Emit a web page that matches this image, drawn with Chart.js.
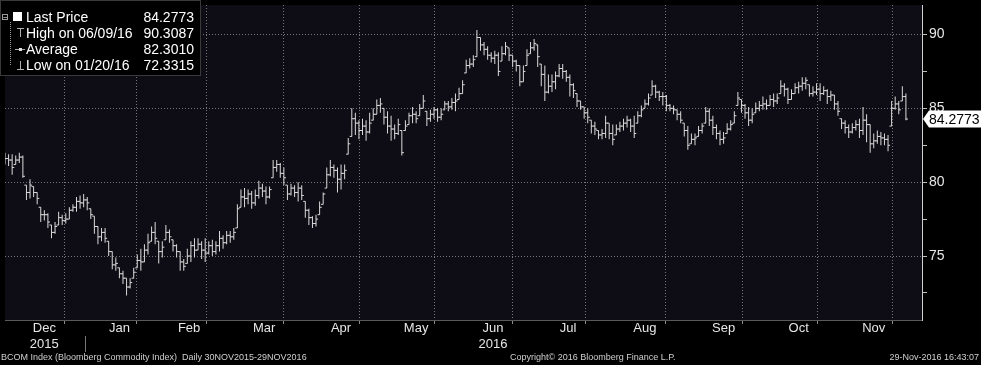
<!DOCTYPE html>
<html><head><meta charset="utf-8">
<script src="https://cdn.jsdelivr.net/npm/chart.js@4.4.0/dist/chart.umd.min.js"></script>
<style>html,body{margin:0;padding:0;background:#000;overflow:hidden}#wrap{position:relative;width:981px;height:365px}</style>
</head><body><div id="wrap"><canvas id="c" width="981" height="365"></canvas></div>
<script>
// ---- data (BCOM daily bars, 30 Nov 2015 - 29 Nov 2016) ----
const monthLabels = ['Dec','Jan','Feb','Mar','Apr','May','Jun','Jul','Aug','Sep','Oct','Nov'];
const yearLabels  = ['2015','','','','','','2016','','','','',''];
const monthTradingDays = [23,19,20,22,21,21,22,20,23,21,21,21];
const yTickValues = [72.5,75,77.5,80,82.5,85,87.5,90];
const legendNames  = ['Last Price','High on 06/09/16','Average','Low on 01/20/16'];
const legendValues = ['84.2773','90.3087','82.3010','72.3315'];
const footerLeft   = 'BCOM Index (Bloomberg Commodity Index)  Daily 30NOV2015-29NOV2016';
const footerCenter = 'Copyright\u00A9 2016 Bloomberg Finance L.P.';
const footerRight  = '29-Nov-2016 16:43:07';

const openPx = [81.8,81.6,81.5,81.2,81.5,81.7,79.8,79.3,79.7,79.3,78.3,77.8,77.8,77.1,76.6,77.1,77.6,77.4,77.5,78.1,78.3,78.7,78.6,
78.8,78.2,77.7,77.0,76.3,76.6,76.0,75.3,74.4,74.2,73.8,73.5,72.9,73.5,74.2,74.7,74.6,75.4,76.0,
76.6,76.0,75.3,76.1,76.6,76.1,75.7,75.3,74.6,74.5,75.0,75.7,75.4,75.8,75.4,75.2,75.7,75.3,75.7,76.2,
75.9,76.4,76.3,76.9,78.3,79.0,78.9,79.2,78.6,79.1,79.6,79.4,79.0,80.3,81.0,81.2,80.6,79.8,79.2,79.6,79.3,79.6,
78.7,78.1,77.6,77.2,77.8,78.5,79.6,80.5,81.0,80.8,80.2,80.6,81.9,83.1,84.3,84.0,83.5,83.8,83.4,84.2,84.6,
85.2,85.0,84.4,83.8,83.6,83.3,83.5,83.5,83.9,84.5,84.6,84.5,85.0,84.8,84.3,84.6,84.9,84.4,84.9,85.3,85.1,
85.4,85.6,86.0,87.4,87.9,88.0,88.5,89.8,89.3,89.0,88.6,88.4,88.6,88.2,88.7,89.1,88.6,88.2,87.9,86.8,87.9,88.7,
89.1,89.3,88.0,87.3,86.1,86.5,86.8,87.2,87.7,87.5,87.1,86.6,86.0,85.5,85.1,84.7,84.2,83.8,83.5,83.2,
83.3,84.0,83.3,83.2,83.6,83.8,84.0,84.2,83.8,84.0,84.5,85.0,85.3,85.9,86.5,86.1,85.8,85.8,85.2,85.0,84.9,84.6,84.0,
83.5,82.6,82.9,83.1,83.5,84.0,84.8,84.2,83.7,83.3,82.9,83.3,83.6,84.0,85.2,85.6,85.2,84.7,84.2,84.7,85.0,
85.2,85.3,85.2,85.6,85.5,86.0,86.5,86.3,85.6,86.0,86.4,86.5,86.7,86.6,86.0,86.1,86.3,86.0,86.2,85.8,85.9,
85.3,84.3,84.0,83.7,83.4,83.7,83.9,83.5,84.2,83.9,82.6,82.8,83.1,83.0,82.9,83.8,85.0,85.3,85.5,85.8];
const highPx = [82.0,81.9,81.9,81.8,82.0,81.8,79.8,80.2,79.7,79.3,78.3,78.1,77.9,77.1,77.3,78.0,77.8,77.9,78.3,78.5,79.0,79.1,79.2,
79.0,78.2,77.7,77.0,76.9,76.9,76.0,75.3,74.9,74.2,74.0,73.5,73.5,74.2,75.1,75.5,75.8,76.5,77.0,
77.3,76.0,76.0,77.1,76.8,76.1,75.8,75.3,74.8,75.5,76.0,76.2,76.2,76.0,76.2,76.0,76.1,76.0,76.7,76.4,
76.7,76.7,76.9,78.5,79.5,79.6,79.5,79.4,79.5,80.1,79.9,79.7,79.7,81.5,81.5,81.3,81.0,79.8,79.9,79.8,80.0,79.8,
78.7,78.2,77.7,77.8,78.7,79.3,81.0,81.5,81.2,81.0,81.2,81.2,83.0,85.0,84.7,84.2,84.3,84.2,84.7,85.0,85.6,
85.7,85.0,84.8,84.5,83.9,84.3,83.5,84.2,84.7,85.1,84.8,85.3,85.9,84.8,84.9,85.1,85.0,85.0,85.5,85.5,85.7,
86.0,86.4,86.9,88.3,88.4,88.6,90.3087,89.8,89.5,89.2,88.8,88.9,88.8,89.2,89.5,89.1,88.6,88.3,87.9,87.9,89.0,89.5,
89.7,89.3,88.0,87.9,87.3,87.3,87.5,88.0,88.0,87.6,87.3,86.7,86.0,85.5,85.1,85.0,84.2,84.1,83.5,83.6,
84.5,84.0,83.9,83.9,84.1,84.3,84.5,84.3,84.5,84.8,85.2,85.6,86.0,86.9,86.6,86.2,86.1,85.9,85.3,85.2,84.9,84.8,84.0,
83.8,83.3,83.3,83.8,84.0,85.1,85.0,84.5,83.9,83.5,83.4,84.0,84.2,84.8,86.1,85.6,85.3,85.1,85.0,85.4,85.5,
85.8,85.6,85.9,86.0,86.0,86.9,86.7,86.4,86.3,86.7,86.8,87.1,87.1,86.6,86.5,86.7,86.7,86.5,86.3,86.2,85.9,
85.5,84.3,84.2,83.9,84.0,84.2,84.3,85.1,84.6,83.9,83.3,83.5,83.4,83.3,83.2,85.5,85.8,85.5,86.5,86.0];
const lowPx = [81.2,81.1,80.5,81.2,81.3,80.3,78.8,78.9,79.0,78.5,77.3,77.4,76.9,76.2,76.5,77.1,77.1,77.2,77.5,78.0,78.0,78.2,78.3,
78.1,77.5,76.5,75.8,76.0,75.9,75.0,74.1,74.0,73.5,73.1,72.3315,72.8,73.5,74.2,74.0,74.6,75.1,76.0,
75.8,74.5,74.9,76.1,75.9,75.3,74.9,74.0,74.0,74.5,74.6,74.9,75.4,74.8,74.6,75.1,75.0,75.1,75.3,75.5,
75.8,75.9,76.1,76.9,78.3,78.3,78.5,78.2,78.4,78.9,79.0,78.5,78.9,80.3,80.7,80.3,79.8,78.8,79.1,79.0,78.7,78.8,
77.6,77.1,76.9,77.0,77.8,78.5,79.6,80.4,80.3,79.3,79.5,80.2,81.9,83.1,83.2,82.9,83.2,82.8,83.3,84.2,84.6,
84.7,83.9,83.3,82.8,82.9,83.2,81.8,83.5,83.9,84.0,84.0,84.5,85.0,83.8,84.1,84.3,84.1,84.2,84.9,84.8,84.9,
84.8,85.6,86.0,87.4,87.7,87.8,88.5,88.9,88.6,88.3,88.1,88.0,87.2,88.2,88.6,88.2,87.8,87.5,86.5,86.8,87.9,88.7,
88.9,87.8,86.5,85.5,86.0,86.1,86.3,87.1,87.0,86.8,85.8,85.7,85.1,84.9,84.3,84.0,83.3,83.2,82.9,82.9,
83.0,82.9,82.5,83.2,83.4,83.5,83.7,83.4,83.0,84.0,84.4,85.0,85.2,85.9,85.7,85.5,85.2,84.8,84.8,84.6,84.2,84.0,83.1,
82.2,82.6,82.5,83.1,83.3,84.0,83.8,83.2,82.9,82.5,82.6,83.3,83.5,84.0,85.2,84.7,84.3,83.8,84.0,84.7,84.8,
84.9,84.9,85.2,85.1,85.3,86.0,85.8,85.3,85.6,86.0,86.0,86.2,86.3,85.8,85.8,85.9,85.5,85.9,85.3,85.5,84.9,
84.5,83.6,83.3,83.0,83.3,83.5,83.0,83.2,82.7,82.0,82.3,82.6,82.5,82.5,82.1,83.8,84.9,84.6,85.5,84.2];
const closePx = [81.6,81.5,81.0,81.5,81.7,80.4,79.3,79.8,79.3,78.9,77.8,77.8,77.3,76.6,77.0,77.6,77.4,77.5,78.1,78.3,78.7,78.6,78.8,
78.6,77.8,77.0,76.3,76.6,76.2,75.3,74.4,74.5,73.8,73.5,72.9,73.2,73.9,74.7,74.6,75.4,75.9,76.6,
76.2,75.3,75.6,76.6,76.3,75.7,75.3,74.6,74.3,75.0,75.7,75.4,75.8,75.4,75.2,75.7,75.3,75.7,76.2,75.9,
76.4,76.3,76.6,78.2,79.0,78.9,79.2,78.6,79.1,79.6,79.4,79.0,79.5,81.0,81.2,80.6,80.3,79.2,79.6,79.3,79.6,79.1,
78.1,77.6,77.2,77.5,78.3,79.2,80.5,81.0,80.8,80.2,80.6,80.8,82.6,84.3,84.0,83.5,83.8,83.4,84.0,84.6,85.2,
85.3,84.4,83.8,83.6,83.3,83.9,82.0,83.8,84.5,84.6,84.3,85.0,85.5,84.3,84.6,84.9,84.4,84.6,85.3,85.1,85.4,
85.5,86.0,86.6,87.9,88.0,88.3,89.8,89.3,89.0,88.6,88.4,88.6,87.5,88.7,89.2,88.6,88.2,87.9,86.8,87.5,88.6,89.1,
89.4,88.5,87.3,86.1,86.5,86.8,87.2,87.7,87.5,87.1,86.6,86.2,85.5,85.1,84.7,84.4,83.8,83.6,83.2,83.3,
84.0,83.3,82.9,83.6,83.8,84.0,84.2,83.8,83.3,84.5,84.9,85.3,85.7,86.5,86.1,85.8,85.8,85.2,85.0,84.9,84.6,84.2,83.5,
82.5,82.9,83.0,83.5,83.8,84.8,84.2,83.7,83.3,82.9,83.0,83.6,83.9,84.5,85.7,85.2,84.7,84.2,84.6,85.0,85.2,
85.3,85.2,85.6,85.5,85.7,86.5,86.3,85.6,86.0,86.4,86.5,86.7,86.9,86.0,86.1,86.3,86.0,86.2,85.8,85.9,85.3,
84.8,84.0,83.7,83.4,83.7,83.9,83.5,84.2,83.9,82.6,82.8,83.1,83.0,82.9,82.5,85.0,85.3,84.9,85.8,84.2773];

// ---- month boundaries / centres on the trading-day index axis ----
const boundaries = [], centers = [];
(function(){ let s = 0; monthTradingDays.forEach(n => { centers.push(s - 0.5 + n / 2); s += n; boundaries.push(s - 0.5); }); })();
const isBoundary = v => boundaries.some(b => Math.abs(b - v) < 1e-6);

const BAR = '#dadada';
const GRID = '#767676';
const FONT = "'Liberation Sans', Arial, sans-serif";
const NARROW = "'Liberation Sans Narrow', 'Liberation Sans', Arial, sans-serif";

const deco = {
  id: 'deco',
  beforeDraw(chart) {
    const {ctx, chartArea: a} = chart;
    ctx.save();
    ctx.fillStyle = '#000'; ctx.fillRect(0, 0, chart.width, chart.height);
    ctx.fillStyle = '#0e0d15'; ctx.fillRect(a.left, a.top, a.right - a.left, a.bottom - a.top);
    ctx.restore();
  },
  afterDraw(chart) {
    const {ctx, chartArea: a, scales} = chart;
    ctx.save();
    // year separator
    const xs = Math.round(scales.x.getPixelForValue(boundaries[0])) + 0.5;
    ctx.strokeStyle = '#777'; ctx.lineWidth = 1;
    ctx.beginPath(); ctx.moveTo(xs, 336); ctx.lineTo(xs, 352); ctx.stroke();
    // legend box
    ctx.fillStyle = '#000'; ctx.fillRect(0, 0, 201, 76);
    ctx.strokeStyle = '#3a3a3a'; ctx.strokeRect(0.5, 0.5, 200, 75);
    const rows = [17, 33, 49, 65];
    ctx.strokeStyle = '#9a9a9a';
    ctx.strokeRect(2.5, 14.5, 5, 5);
    ctx.beginPath(); ctx.moveTo(3.5, 17.5); ctx.lineTo(7, 17.5); ctx.stroke();
    ctx.fillStyle = '#fff'; ctx.fillRect(13, 12, 9, 9);
    ctx.setLineDash([1, 1]);
    ctx.beginPath(); ctx.moveTo(10.5, 22); ctx.lineTo(10.5, 66); ctx.stroke();
    ctx.setLineDash([]);
    ctx.strokeStyle = '#b0b0b0';
    ctx.beginPath();
    ctx.moveTo(17, 28.5); ctx.lineTo(24, 28.5); ctx.moveTo(20.5, 28.5); ctx.lineTo(20.5, 37);
    ctx.moveTo(15, 49.5); ctx.lineTo(25, 49.5);
    ctx.moveTo(20.5, 61); ctx.lineTo(20.5, 69.5); ctx.moveTo(17, 69.5); ctx.lineTo(24, 69.5);
    ctx.stroke();
    ctx.fillStyle = '#e0e0e0'; ctx.fillRect(19, 48, 3, 3);
    ctx.font = '14px ' + FONT; ctx.textBaseline = 'middle';
    legendNames.forEach((n, i) => {
      ctx.fillStyle = '#ffffff'; ctx.textAlign = 'left'; ctx.fillText(n, 26, rows[i] + 1);
      ctx.textAlign = 'right'; ctx.fillText(legendValues[i], 194, rows[i] + 1);
    });
    // last price tag
    const last = closePx[closePx.length - 1];
    const yp = scales.y.getPixelForValue(last);
    ctx.fillStyle = '#ffffff';
    ctx.beginPath();
    ctx.moveTo(a.right + 1, yp); ctx.lineTo(a.right + 7, yp - 8.5); ctx.lineTo(chart.width, yp - 8.5);
    ctx.lineTo(chart.width, yp + 8.5); ctx.lineTo(a.right + 7, yp + 8.5); ctx.closePath(); ctx.fill();
    ctx.fillStyle = '#000'; ctx.textAlign = 'left'; ctx.font = '14px ' + FONT;
    ctx.fillText(last.toFixed(4), a.right + 7, yp + 1);
    // footer
    ctx.font = '9px ' + NARROW; ctx.fillStyle = '#cfcfcf'; ctx.textBaseline = 'middle';
    ctx.textAlign = 'left'; ctx.fillText(footerLeft, 1, 358);
    ctx.fillText(footerCenter, 510, 358);
    ctx.textAlign = 'right'; ctx.fillText(footerRight, 979, 358);
    ctx.restore();
  }
};

new Chart(document.getElementById('c'), {
  type: 'bar',
  data: {
    datasets: [
      { type: 'bar', data: closePx.map((c, i) => ({x: i, y: [lowPx[i], highPx[i]]})),
        backgroundColor: BAR, barThickness: 1, inflateAmount: 0, borderWidth: 0, order: 2 },
      { type: 'scatter', data: openPx.map((o, i) => ({x: i - 0.28, y: o})),
        pointStyle: 'line', pointRadius: 1.1, borderColor: BAR, borderWidth: 1, order: 1 },
      { type: 'scatter', data: closePx.map((c, i) => ({x: i + 0.28, y: c})),
        pointStyle: 'line', pointRadius: 1.1, borderColor: BAR, borderWidth: 1, order: 1 }
    ]
  },
  options: {
    responsive: false, animation: false, events: [],
    layout: { padding: 0 },
    plugins: { legend: { display: false }, tooltip: { enabled: false } },
    scales: {
      x: {
        type: 'linear', position: 'bottom', min: 0, max: 256.5, offset: false,
        afterBuildTicks: s => { s.ticks = boundaries.concat(centers).sort((p, q) => p - q).map(v => ({value: v})); },
        afterFit: s => { s.height = 45; s.paddingLeft = 0; s.paddingRight = 0; },
        grid: {
          color: c => (c.tick && isBoundary(c.tick.value)) ? GRID : 'rgba(0,0,0,0)',
          tickColor: c => (c.tick && isBoundary(c.tick.value)) ? '#8a8a8a' : 'rgba(0,0,0,0)',
          tickLength: 4, lineWidth: 1
        },
        border: { display: true, color: '#5a5a5a', dash: [1, 2] },
        ticks: {
          autoSkip: false, maxRotation: 0, minRotation: 0, padding: -4,
          color: '#e6e6e6', font: { family: FONT, size: 13, lineHeight: 1.25 },
          callback: v => { const m = centers.findIndex(c => Math.abs(c - v) < 1e-6); if (m < 0) return ''; return yearLabels[m] ? [monthLabels[m], yearLabels[m]] : monthLabels[m]; }
        }
      },
      y: {
        type: 'linear', position: 'right', min: 70.667, max: 92,
        afterBuildTicks: s => { s.ticks = yTickValues.map(v => ({value: v})); },
        afterFit: s => { s.width = 59; s.paddingTop = 0; s.paddingBottom = 0; },
        grid: {
          color: c => (c.tick && c.tick.value % 5 === 0) ? GRID : 'rgba(0,0,0,0)',
          tickColor: '#bdbdbd', tickLength: 5, lineWidth: 1
        },
        border: { display: true, color: '#d0d0d0', dash: [1, 2] },
        ticks: {
          padding: 2, color: '#e6e6e6', font: { family: FONT, size: 14 },
          callback: v => (v % 5 === 0 ? String(v) : '')
        }
      }
    }
  },
  plugins: [deco]
});
</script></body></html>
